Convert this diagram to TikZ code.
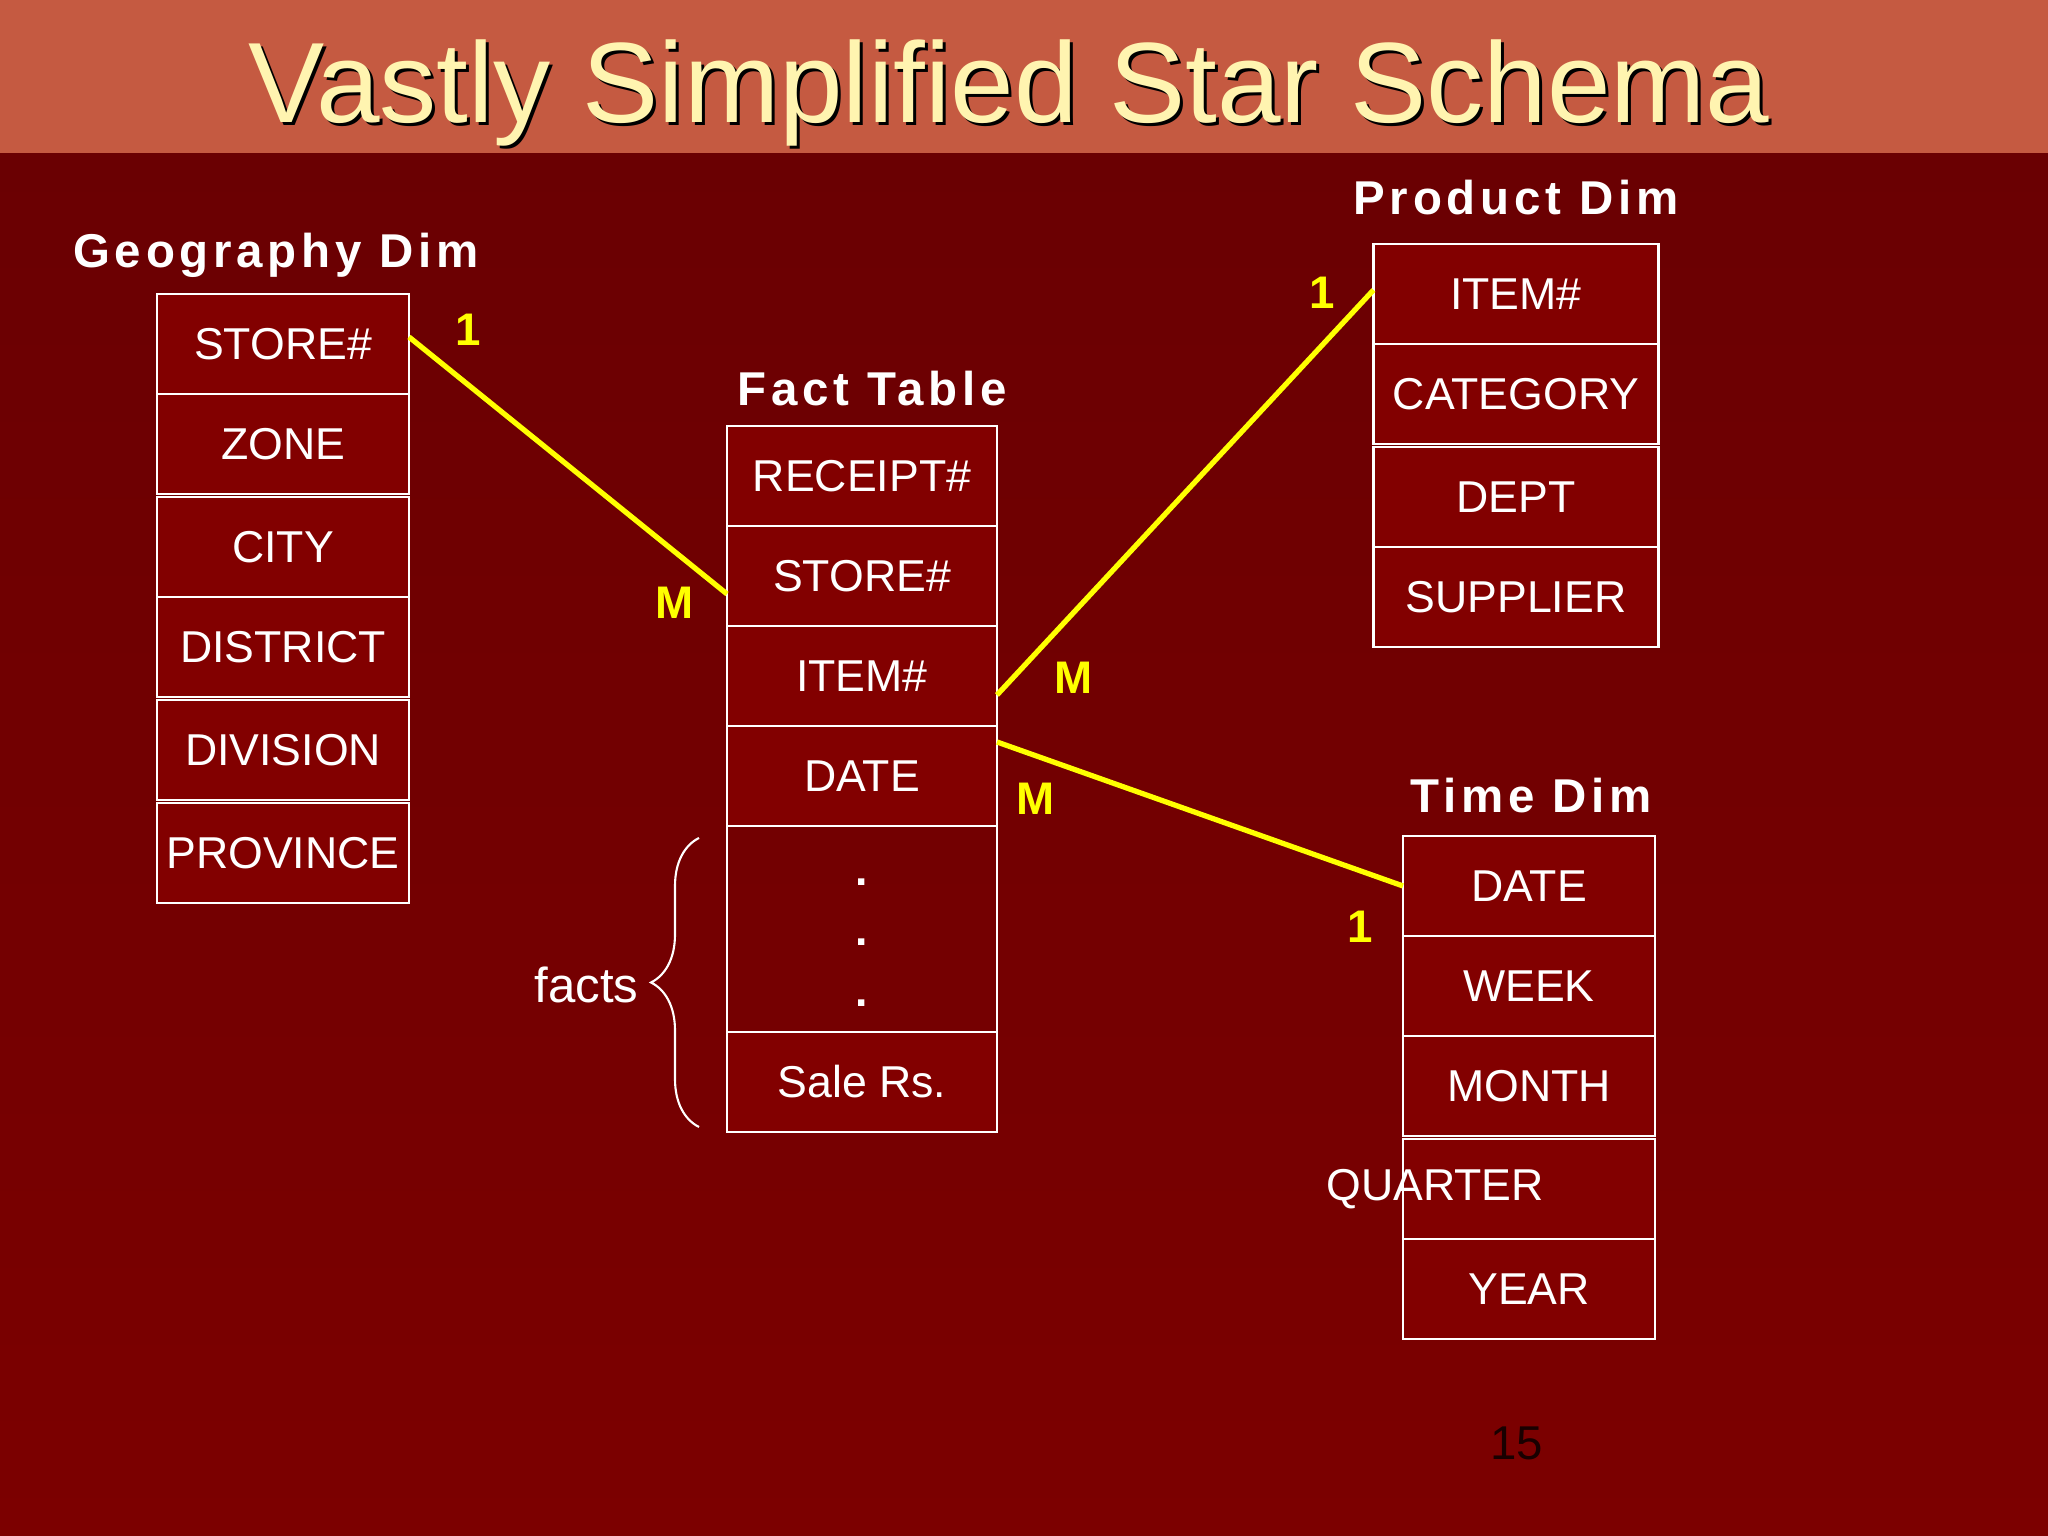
\documentclass[tikz,border=0pt]{standalone}
\usepackage{fontspec}
\setmainfont{Liberation Sans}
\newfontfamily\hdrfont[LetterSpace=10]{Liberation Sans}
\usetikzlibrary{positioning,decorations.pathreplacing}
\definecolor{barred}{RGB}{197,90,65}
\definecolor{bgtop}{RGB}{106,0,2}
\definecolor{bgbot}{RGB}{124,0,0}
\definecolor{cellred}{RGB}{130,0,0}
\definecolor{titlecream}{RGB}{255,244,176}
\definecolor{keyyellow}{RGB}{255,255,0}
\definecolor{pagenum}{RGB}{25,0,0}
\tikzset{
    %Define style for table cells
    cell/.style={
           rectangle,
           draw=white, line width=0.8pt,
           fill=cellred,
           minimum height=1cm,
           inner sep=0pt, outer sep=0pt,
           text=white,
           font=\fontsize{12.7}{15}\selectfont,
           text centered},
    %Define style for loose cell texts
    celltext/.style={
           text=white,
           inner sep=0pt,
           font=\fontsize{12.7}{15}\selectfont},
    %Define style for table headings
    tablehead/.style={
           text=white,
           inner sep=0pt,
           anchor=base,
           font=\hdrfont\bfseries\fontsize{13.5}{16}\selectfont},
    %Define style for cardinalities
    card/.style={
           text=keyyellow,
           inner sep=0pt,
           font=\bfseries\fontsize{13}{16}\selectfont},
    % Define link style
    link/.style={
           keyyellow,
           line width=1.5pt}
}

\begin{document}
\begin{tikzpicture}[node distance=0pt,
    gcell/.style={cell, minimum width=2.52cm},
    fcell/.style={cell, minimum width=2.70cm},
    pcell/.style={cell, minimum width=2.85cm},
    tcell/.style={cell, minimum width=2.52cm},
    titletext/.style={anchor=base, inner sep=0pt, font=\fontsize{32.5}{38}\selectfont}]
\useasboundingbox (0,0) rectangle (20.48,15.36);
% background and title bar
\shade[top color=bgtop, bottom color=bgbot] (0,0) rectangle (20.48,13.83);
\fill[barred] (0,13.83) rectangle (20.48,15.36);
\node[titletext, text=black] (titleshadow) at (10.12,14.10) {Vastly Simplified Star Schema};
\node[titletext, text=titlecream] (title) at (10.09,14.13) {Vastly Simplified Star Schema};

% geography dimension
\node[tablehead] (geohead) at (2.76,12.68) {Geography Dim};
\node[gcell] (g1) at (2.83,11.92) {STORE\#};
\node[gcell, below=of g1] (g2) {ZONE};
\node[gcell, below=0.03cm of g2] (g3) {CITY};
\node[gcell, below=of g3] (g4) {DISTRICT};
\node[gcell, below=0.03cm of g4] (g5) {DIVISION};
\node[gcell, below=0.03cm of g5] (g6) {PROVINCE};

% fact table
\node[tablehead] (facthead) at (8.72,11.30) {Fact Table};
\node[fcell] (f1) at (8.62,10.60) {RECEIPT\#};
\node[fcell, below=of f1] (f2) {STORE\#};
\node[fcell, below=of f2] (f3) {ITEM\#};
\node[fcell, below=of f3] (f4) {DATE};
\node[fcell, below=of f4, fill=none, minimum height=2.06cm] (f5) {};
\node[fcell, below=of f5] (f6) {Sale Rs.};
\foreach \i/\dy in {1/0.43,2/-0.17,3/-0.78}
    \node[celltext, anchor=base, font=\bfseries\fontsize{12.7}{15}\selectfont] (dot\i) at ([yshift=\dy cm]f5.center) {.};
\coordinate (btop) at ([xshift=-0.28cm,yshift=-0.12cm]f5.north west);
\coordinate (bbot) at ([xshift=-0.28cm,yshift=0.05cm]f6.south west);
\draw[white, line width=0.6pt, decorate, decoration={brace, amplitude=0.48cm}] (bbot) -- (btop);
\node[celltext, anchor=base east, font=\fontsize{14}{16}\selectfont] (facts) at (6.39,5.33) {facts};

% product dimension
\node[tablehead] (prodhead) at (15.16,13.21) {Product Dim};
\node[pcell] (p1) at (15.16,12.42) {ITEM\#};
\node[pcell, below=of p1] (p2) {CATEGORY};
\node[pcell, below=0.03cm of p2] (p3) {DEPT};
\node[pcell, below=of p3] (p4) {SUPPLIER};

% time dimension
\node[tablehead] (timehead) at (15.31,7.23) {Time Dim};
\node[tcell] (t1) at (15.29,6.50) {DATE};
\node[tcell, below=of t1] (t2) {WEEK};
\node[tcell, below=of t2] (t3) {MONTH};
\node[tcell, below=0.03cm of t3] (t4) {};
\node[tcell, below=of t4] (t5) {YEAR};
\node[celltext] (quarter) at ([xshift=-0.94cm]t4.center) {QUARTER};

% links and cardinalities
\path[link]
    ([yshift=0.07cm]g1.east) edge ([yshift=-0.18cm]f2.west)
    ([yshift=-0.19cm]f3.east) edge ([yshift=0.04cm]p1.west)
    ([yshift=0.34cm]f4.east) edge (t1.west);
\node[card] (c1) at (4.68,12.06) {1};
\node[card] (c2) at (6.75,9.33) {M};
\node[card] (c3) at (13.22,12.43) {1};
\node[card] (c4) at (10.74,8.58) {M};
\node[card] (c5) at (10.36,7.37) {M};
\node[card] (c6) at (13.60,6.09) {1};

\node[anchor=base, inner sep=0pt, text=pagenum, font=\fontsize{13.5}{16}\selectfont] (pageno) at (15.17,0.76) {15};
\end{tikzpicture}
\end{document}
